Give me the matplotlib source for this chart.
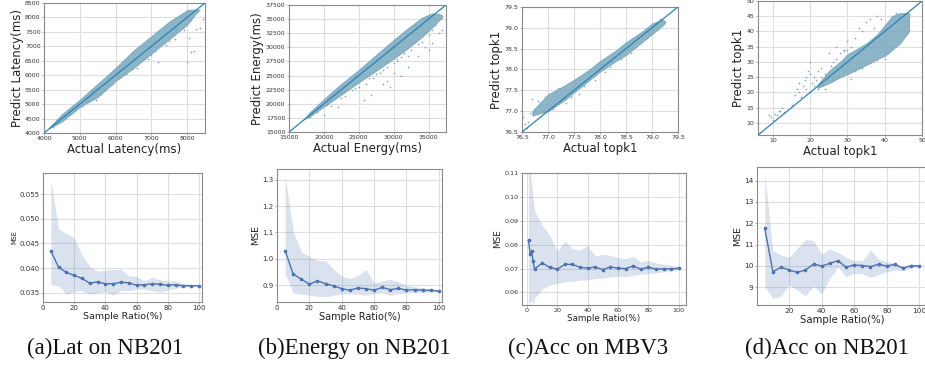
import matplotlib
matplotlib.use("Agg")
import matplotlib.pyplot as plt
import matplotlib.ticker as mticker

# ---------------- data: top row (prediction vs actual) ----------------
# dense cloud envelopes (x, lower edge, upper edge) + sparse outlier points
lat_env_x = [4150, 4500, 4800, 5000, 5500, 6000, 6500, 7000, 7500, 8000, 8250, 8350]
lat_env_lo = [4170, 4400, 4700, 4900, 5250, 5800, 6250, 6750, 7250, 7750, 8150, 8260]
lat_env_hi = [4200, 4650, 4950, 5150, 5700, 6250, 6850, 7350, 7850, 8250, 8280, 8270]
lat_out_x = [4250, 4400, 4450, 4700, 4900, 5200, 5450, 5600, 5900, 6300, 6600, 6900, 7200, 7500, 7650,
             7900, 8000, 8050, 8100, 8200, 8250, 8350, 8450, 7400, 7700, 4350, 4600, 4850, 5050, 5350,
             5700, 6100, 6450, 6800, 7100, 7350, 7600, 7850, 8100, 6200, 6700, 7000, 5800, 5300]
lat_out_y = [4200, 4350, 4450, 4650, 4900, 5100, 5150, 5350, 5700, 6050, 6250, 6550, 6450, 7200, 7250,
             7550, 6450, 7300, 6800, 6850, 7600, 7650, 7950, 7050, 7600, 4300, 4550, 4800, 4950, 5450,
             5500, 5900, 6200, 6600, 6850, 7150, 7400, 7650, 7900, 6050, 6500, 6700, 5650, 5200]

en_env_x = [17300, 18000, 20000, 22000, 25000, 28000, 30000, 32000, 34000, 35500, 36500, 37000]
en_env_lo = [17350, 17800, 19500, 21200, 23800, 26300, 28000, 29800, 31800, 33500, 34800, 35400]
en_env_hi = [17450, 18500, 20800, 23000, 26000, 29200, 31300, 33300, 35200, 36000, 35900, 35600]
en_out_x = [18500, 20000, 22000, 24000, 25800, 26800, 27000, 28500, 29000, 29500, 30500, 31000, 32000,
            33000, 33500, 34000, 34500, 35500, 36500, 31500, 30000, 33000, 35000, 36000, 19000, 21000,
            23000, 25000, 26000, 27500, 28000, 29000, 30000, 31000, 32500, 34000, 35000, 36800, 37000,
            24500, 26500, 28500, 30500, 32000, 33500, 35500, 22500, 20500, 18000, 27000]
en_out_y = [18200, 18000, 19500, 22500, 20700, 21500, 24500, 23500, 24000, 23000, 27500, 25000, 26500,
            34000, 28500, 33800, 30000, 30800, 32500, 29000, 25500, 31000, 29500, 34000, 18600, 19600,
            21300, 23000, 23500, 25200, 25500, 26500, 27200, 28200, 29500, 31000, 32200, 35000, 33000,
            22800, 24600, 26000, 28000, 28500, 30500, 33000, 21000, 19800, 17600, 27300]

mb_env_x = [76.7, 77.0, 77.3, 77.5, 77.8, 78.0, 78.3, 78.5, 78.8, 79.0, 79.2, 79.25]
mb_env_lo = [76.9, 77.0, 77.25, 77.45, 77.75, 77.95, 78.2, 78.35, 78.65, 78.85, 79.05, 79.12]
mb_env_hi = [77.0, 77.4, 77.6, 77.75, 78.0, 78.2, 78.45, 78.65, 78.9, 79.1, 79.2, 79.15]
mb_out_x = [76.52, 76.55, 76.6, 76.65, 76.7, 76.75, 76.9, 77.1, 76.8, 77.2, 77.6, 78.1, 78.6, 79.1,
            79.25, 76.62, 76.72, 76.85, 76.95, 77.05, 77.15, 77.35, 77.45, 77.7, 77.9, 78.2, 78.4,
            78.7, 78.9, 79.15]
mb_out_y = [76.85, 76.7, 76.6, 76.95, 77.3, 77.05, 77.0, 77.05, 77.25, 77.55, 77.4, 77.95, 78.4, 78.95,
            79.15, 76.75, 76.9, 77.2, 77.35, 77.15, 77.45, 77.2, 77.35, 77.6, 77.75, 78.05, 78.25,
            78.55, 78.75, 79.2]

nb_env_x = [22, 25, 28, 30, 35, 38, 40, 42, 44, 46.5]
nb_env_lo = [21.5, 23, 25, 26, 29, 31, 32, 34, 36, 40]
nb_env_hi = [22.5, 27, 30, 32.5, 36, 39, 42, 45, 46, 46]
nb_out_x = [9.5, 10, 10.5, 11, 12, 12.5, 13, 16, 16.5, 17, 17, 18, 18.5, 19, 19, 20, 20, 21, 21.5,
            22, 22, 23, 24, 25, 27, 30, 32, 33, 35, 36, 38, 34, 29, 31, 24, 26, 33, 20, 23, 37, 39,
            9, 11.5, 15, 17.5, 19.5, 20.5, 21, 22.5, 23.5, 24.5, 25.5, 26, 27, 28, 29, 30, 31, 32,
            34, 36, 38, 40, 41, 42, 43]
nb_out_y = [12, 11, 13, 12.5, 14, 15, 13.5, 19, 21, 20, 23, 22, 24, 25, 21, 20, 26, 22, 24, 21, 27,
            25, 26, 33, 35, 37, 38, 41, 43, 44, 45, 40, 34, 35, 21, 24.5, 28, 30, 28, 41, 44,
            12.5, 14, 16, 18.5, 27, 23, 25, 23, 22.5, 24, 28.5, 30, 31, 33, 33.5, 34, 24.5, 27,
            28, 29.5, 30.5, 31, 33, 35, 46]

# ---------------- data: bottom row (MSE vs sample ratio) ----------------
ratio = [5, 10, 15, 20, 25, 30, 35, 40, 45, 50, 55, 60, 65, 70, 75, 80, 85, 90, 95, 100]
lat_mse = [0.04347, 0.04015, 0.0391, 0.0385, 0.0379, 0.0369, 0.0372, 0.0368, 0.0368, 0.0371, 0.0370,
           0.0365, 0.0366, 0.0368, 0.0367, 0.0365, 0.0366, 0.0364, 0.0364, 0.0364]
lat_hi = [0.0579, 0.0479, 0.0471, 0.0461, 0.0427, 0.0403, 0.0393, 0.0396, 0.0397, 0.0398, 0.0384,
          0.0383, 0.0374, 0.0381, 0.0376, 0.0374, 0.0374, 0.0369, 0.0366, 0.0364]
lat_lo = [0.0366, 0.0364, 0.0347, 0.0352, 0.0354, 0.0347, 0.0350, 0.0352, 0.0345, 0.0355, 0.0354,
          0.0357, 0.0357, 0.0354, 0.0351, 0.0355, 0.0359, 0.0361, 0.0362, 0.0364]

en_mse = [1.031, 0.942, 0.923, 0.904, 0.9165, 0.906, 0.8975, 0.887, 0.881, 0.890, 0.887, 0.881, 0.892,
          0.883, 0.8886, 0.881, 0.8835, 0.881, 0.881, 0.878]
en_hi = [1.313, 1.103, 1.027, 1.010, 0.993, 0.993, 0.961, 0.934, 0.925, 0.938, 0.960, 0.909, 0.915,
         0.923, 0.9127, 0.900, 0.894, 0.891, 0.887, 0.878]
en_lo = [0.942, 0.871, 0.866, 0.862, 0.858, 0.8556, 0.862, 0.866, 0.868, 0.866, 0.862, 0.868, 0.871,
         0.862, 0.868, 0.871, 0.871, 0.871, 0.875, 0.878]

mb_ratio = [1, 2, 3, 4, 5, 10, 15, 20, 25, 30, 35, 40, 45, 50, 55, 60, 65, 70, 75, 80, 85, 90, 95, 100]
mb_mse = [0.0819, 0.0763, 0.0774, 0.0732, 0.0698, 0.0724, 0.0705, 0.0698, 0.0718, 0.0718, 0.0705,
          0.0702, 0.0707, 0.0696, 0.0707, 0.0702, 0.0700, 0.0711, 0.0698, 0.0706, 0.0698, 0.0699,
          0.0699, 0.0702]
mb_hi = [0.118, 0.112, 0.106, 0.100, 0.0944, 0.0882, 0.0840, 0.0774, 0.0815, 0.0784, 0.0777, 0.0798,
         0.0752, 0.0760, 0.0756, 0.0746, 0.0742, 0.0752, 0.0728, 0.0735, 0.0724, 0.0718, 0.0714, 0.0705]
mb_lo = [0.0540, 0.0560, 0.0565, 0.0552, 0.0575, 0.0613, 0.0631, 0.0638, 0.0645, 0.0647, 0.0652,
         0.0652, 0.0659, 0.0659, 0.0666, 0.0668, 0.0666, 0.0672, 0.0677, 0.0679, 0.0682, 0.0686,
         0.0691, 0.0696]

nb_mse = [11.77, 9.73, 9.94, 9.81, 9.70, 9.81, 10.09, 10.0, 10.12, 10.25, 9.94, 10.05, 10.02, 9.97,
          10.08, 10.0, 10.08, 9.89, 10.02, 10.0]
nb_hi = [14.31, 10.72, 10.52, 10.41, 10.83, 11.25, 11.19, 10.56, 10.80, 10.63, 10.41, 10.25, 10.25,
         10.75, 10.31, 10.20, 10.12, 9.97, 10.09, 10.0]
nb_lo = [9.03, 8.48, 8.59, 9.11, 8.875, 8.59, 9.06, 8.69, 9.42, 9.94, 9.50, 9.66, 9.63, 9.47, 9.58,
         9.73, 9.81, 9.78, 9.89, 10.0]

captions = ["(a)Lat on NB201", "(b)Energy on NB201", "(c)Acc on MBV3", "(d)Acc on NB201"]

# ---------------- figure ----------------
fig = plt.figure(figsize=(9.25, 3.69), dpi=100)

SC = "#78a8be"
DIAG = "#2b83b5"
LINE = "#4c72b0"
GRID = "#dedede"
SPINE = "#8a8a8a"


def style(ax, tfs):
    ax.grid(True, color=GRID, lw=0.8)
    ax.set_axisbelow(True)
    for s in ax.spines.values():
        s.set_color(SPINE)
        s.set_linewidth(0.8)
    ax.tick_params(labelsize=tfs, length=1.5, width=0.5, color=SPINE, pad=1, labelcolor="#333333")


def scatter_panel(rect, lim, ex, elo, ehi, ox, oy, xl, yl, ticks):
    ax = fig.add_axes(rect)
    style(ax, 4.5)
    ax.fill_between(ex, elo, ehi, color=SC, lw=0.8, edgecolor=SC, alpha=0.85, zorder=2)
    ax.scatter(ox, oy, s=1.4, color=SC, lw=0, zorder=3)
    ax.plot(lim, lim, color=DIAG, lw=0.9, zorder=4)
    ax.set_xlim(lim)
    ax.set_ylim(lim)
    ax.set_xticks(ticks)
    ax.set_yticks(ticks)
    ax.set_xlabel(xl, fontsize=8.5, labelpad=1.2, color="#222222")
    ax.set_ylabel(yl, fontsize=8.5, labelpad=1, color="#222222")
    return ax


ax = scatter_panel([0.0476, 0.6396, 0.174, 0.3523], (4000, 8500), lat_env_x, lat_env_lo, lat_env_hi,
                   lat_out_x, lat_out_y, "Actual Latency(ms)", "Predict Latency(ms)",
                   [4000, 5000, 6000, 7000, 8000])
ax.set_yticks([4000, 4500, 5000, 5500, 6000, 6500, 7000, 7500, 8000, 8500])

ax = scatter_panel([0.3124, 0.6423, 0.1697, 0.3442], (15000, 37500), en_env_x, en_env_lo, en_env_hi,
                   en_out_x, en_out_y, "Actual Energy(ms)", "Predict Energy(ms)",
                   [15000, 20000, 25000, 30000, 35000])
ax.set_yticks([15000, 17500, 20000, 22500, 25000, 27500, 30000, 32500, 35000, 37500])

ax = scatter_panel([0.5643, 0.6423, 0.1686, 0.3388], (76.5, 79.5), mb_env_x, mb_env_lo, mb_env_hi,
                   mb_out_x, mb_out_y, "Actual topk1", "Predict topk1",
                   [76.5, 77.0, 77.5, 78.0, 78.5, 79.0, 79.5])
ax.xaxis.set_major_formatter(mticker.FormatStrFormatter("%.1f"))
ax.yaxis.set_major_formatter(mticker.FormatStrFormatter("%.1f"))

ax = scatter_panel([0.8195, 0.6341, 0.1773, 0.3633], (6, 50), nb_env_x, nb_env_lo, nb_env_hi,
                   nb_out_x, nb_out_y, "Actual topk1", "Predict topk1",
                   [10, 20, 30, 40, 50])
ax.set_yticks([10, 15, 20, 25, 30, 35, 40, 45, 50])


def mse_panel(rect, x, m, lo, hi, xlim, ylim, yticks, tfs, xfs, yfs, fmt=None):
    ax = fig.add_axes(rect)
    style(ax, tfs)
    ax.fill_between(x, lo, hi, color=LINE, alpha=0.2, lw=0, zorder=2)
    ax.plot(x, m, color=LINE, lw=1.0, marker="o", ms=1.6, zorder=3)
    ax.set_xlim(xlim)
    ax.set_ylim(ylim)
    ax.set_yticks(yticks)
    if fmt:
        ax.yaxis.set_major_formatter(mticker.FormatStrFormatter(fmt))
    ax.set_xlabel("Sample Ratio(%)", fontsize=xfs, labelpad=0.5, color="#222222")
    ax.set_ylabel("MSE", fontsize=yfs, labelpad=1.5, color="#222222")
    return ax


a = mse_panel([0.0465, 0.1816, 0.1719, 0.3496], ratio, lat_mse, lat_lo, lat_hi, (0, 102),
              (0.0331, 0.0593), [0.035, 0.040, 0.045, 0.050, 0.055], 5, 6.8, 4.8, "%.3f")
a.set_xticks([0, 20, 40, 60, 80, 100])
b = mse_panel([0.2995, 0.1816, 0.1784, 0.3604], ratio, en_mse, en_lo, en_hi, (0, 102),
              (0.8365, 1.3406), [0.9, 1.0, 1.1, 1.2, 1.3], 5, 7, 6.8, "%.1f")
b.set_xticks([0, 20, 40, 60, 80, 100])
c = mse_panel([0.5643, 0.1734, 0.1773, 0.3577], mb_ratio, mb_mse, mb_lo, mb_hi, (-3.3, 104.8),
              (0.0547, 0.1102), [0.06, 0.07, 0.08, 0.09, 0.10, 0.11], 4.6, 6.3, 6.4, "%.2f")
c.set_xticks([0, 20, 40, 60, 80, 100])
d = mse_panel([0.8184, 0.1734, 0.1838, 0.374], ratio, nb_mse, nb_lo, nb_hi, (0.25, 104.75),
              (8.17, 14.64), [9, 10, 11, 12, 13, 14], 5.3, 7.3, 6.8)
d.set_xticks([20, 40, 60, 80, 100])

cap_x = [105, 354, 588, 827]
for cx, t in zip(cap_x, captions):
    fig.text(cx / 925, 1 - 348 / 369, t, ha="center", va="center",
             fontsize=16.5, family="Liberation Serif", color="#111111")

fig.savefig("out.png", dpi=100)
